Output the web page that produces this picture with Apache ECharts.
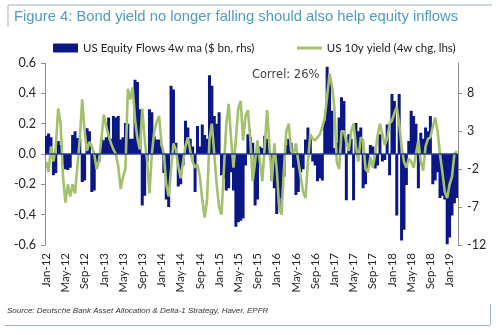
<!DOCTYPE html>
<html>
<head>
<meta charset="utf-8">
<script src="https://cdn.jsdelivr.net/npm/echarts@6/dist/echarts.min.js"></script>
<style>
html,body{margin:0;padding:0;background:#fff}
#c{width:500px;height:335px}
</style>
</head>
<body>
<div id="c"></div>
<script>
// Half-month periods from Jan-12 to Feb-19
const monthNames = ['Jan','Feb','Mar','Apr','May','Jun','Jul','Aug','Sep','Oct','Nov','Dec'];
const startYear = 2012;
const monthCount = 86;

// Labels shown on the date axis
const tickLabels = ['Jan-12','May-12','Sep-12','Jan-13','May-13','Sep-13','Jan-14','May-14','Sep-14',
  'Jan-15','May-15','Sep-15','Jan-16','May-16','Sep-16','Jan-17','May-17','Sep-17',
  'Jan-18','May-18','Sep-18','Jan-19'];

// US equity flows, 4w moving average ($ bn, right axis)
const equityFlows = [
  2.4, 2.7, 2.2, -2.8, -2.5, 1.7, 1.2, -1.5, -2.0, -2.1,
  -1.8, 2.5, 3.0, 2.1, 2.0, -3.7, -3.5, 3.4, 3.0, -5.0,
  -4.8, -1.3, -1.0, 2.0, 1.8, 2.2, 4.8, 2.0, 5.0, 4.8,
  5.0, 1.9, 2.2, 4.1, 4.0, 2.0, 2.0, 9.8, 9.5, 5.9,
  -6.8, -5.5, -1.0, 5.9, 5.5, 2.3, 1.9, 1.9, 1.0, -2.5,
  -6.0, -7.0, 9.0, 8.5, 1.5, -4.3, -4.0, -1.5, 4.4, 3.5,
  2.0, 1.0, -5.0, 3.7, 1.0, 3.9, 2.5, 2.0, 10.4, 9.0,
  5.0, 4.0, 5.5, -2.8, -3.2, -4.8, -4.5, -2.4, -4.8, -9.6,
  -9.0, -8.8, -8.5, -1.5, 2.6, 2.2, 1.5, -6.8, -6.0, 1.0,
  0.8, 2.4, 2.0, 0.5, -3.5, -4.5, -7.9, -7.0, -5.8, -3.0,
  1.2, 2.0, 1.5, -1.8, -5.4, -5.0, -2.4, -2.0, 1.9, 3.5,
  2.5, -1.0, -1.5, -3.6, -3.2, -3.5, 4.4, 11.5, 10.5, 5.7,
  0.8, 1.5, 4.8, 7.5, 7.0, -6.1, 2.6, 2.0, -6.1, 4.1,
  3.0, 3.5, -4.5, -4.0, -1.9, 1.2, 1.0, -1.9, -1.5, 2.6,
  -1.0, -0.8, 3.9, -2.8, 7.9, 7.0, -8.1, 7.9, -11.4, -10.0,
  -4.1, 1.7, 5.7, 5.0, 4.0, -4.5, 2.8, 2.0, 3.5, 3.0,
  5.0, -4.0, -3.5, -2.4, -5.8, -5.5, -6.0, -11.9, -11.0, -8.1,
  -6.5, -5.8
];

// US 10y yield, 4-week change (left axis)
const yieldChange = [
  -0.05, -0.12, 0.05, -0.05, 0.05, 0.30, 0.20, -0.15, -0.32, -0.20,
  -0.28, -0.20, -0.26, -0.08, 0.10, 0.36, 0.15, 0.02, 0.08, 0.05,
  0.00, -0.10, -0.04, 0.10, 0.26, 0.18, 0.12, 0.07, 0.03, 0.00,
  -0.08, -0.23, -0.15, -0.10, 0.43, 0.36, 0.44, 0.23, 0.10, 0.03,
  0.30, 0.10, -0.04, -0.26, 0.00, 0.15, 0.21, 0.25, 0.07, 0.00,
  -0.20, -0.28, -0.10, 0.07, 0.03, -0.08, -0.16, -0.05, 0.05, 0.11,
  0.02, -0.05, -0.09, -0.07, -0.15, -0.30, -0.42, -0.30, 0.10, 0.20,
  0.00, -0.20, -0.35, -0.40, -0.10, 0.20, 0.33, 0.10, -0.09, 0.10,
  0.30, 0.35, 0.09, 0.25, 0.29, 0.10, -0.18, -0.05, 0.09, -0.05,
  -0.18, 0.05, 0.29, 0.05, -0.18, 0.07, -0.10, -0.35, -0.40, -0.10,
  0.15, 0.20, 0.02, 0.00, 0.07, -0.05, -0.15, -0.25, -0.29, -0.05,
  0.13, 0.10, 0.09, 0.11, 0.13, 0.18, 0.24, 0.38, 0.53, 0.45,
  0.31, -0.05, -0.10, 0.15, 0.15, 0.08, 0.02, 0.15, 0.20, 0.05,
  -0.05, 0.11, 0.09, -0.10, -0.12, -0.02, -0.09, 0.00, 0.12, 0.20,
  0.13, 0.06, 0.10, 0.20, 0.22, 0.27, 0.31, 0.20, 0.05, -0.05,
  -0.09, -0.03, -0.05, -0.09, 0.00, 0.09, -0.05, -0.11, 0.05, 0.10,
  0.11, 0.18, 0.24, 0.15, 0.00, -0.12, -0.25, -0.29, -0.20, -0.15,
  0.00, 0.02
];

const rightTicks = [-12, -7, -2, 3, 8];

// Build category keys "Mon-YY|half"
const periods = [];
for (let m = 0; m < monthCount; m++) {
  const y = startYear + Math.floor(m / 12);
  const label = monthNames[m % 12] + '-' + String(y).slice(2);
  periods.push(label + '|1');
  periods.push(label + '|2');
}

const axisFont = 'Lato, "Open Sans", sans-serif';
const chart = echarts.init(document.getElementById('c'), null, {renderer: 'canvas'});

chart.setOption({
  animation: false,
  backgroundColor: '#ffffff',
  grid: {left: 45, right: 42, top: 63, bottom: 90, containLabel: false},
  legend: {
    top: 37, left: 48,
    itemGap: 41,
    itemWidth: 25, itemHeight: 9,
    textStyle: {fontFamily: axisFont, fontSize: 11.5, color: '#1a1a1a'},
    data: [
      {name: 'US Equity Flows 4w ma ($ bn, rhs)', icon: 'rect'},
      {name: 'US 10y yield (4w chg, lhs)', itemStyle: {opacity: 0},
       lineStyle: {width: 3, color: '#a3c16a'}}
    ]
  },
  xAxis: {
    type: 'category',
    data: periods,
    boundaryGap: true,
    axisLine: {show: false},
    axisTick: {show: false},
    axisLabel: {
      rotate: 90,
      margin: 8,
      fontFamily: axisFont,
      fontSize: 11.5,
      color: '#262626',
      interval: function (idx, val) {
        const p = val.split('|');
        return p[1] === '1' && tickLabels.indexOf(p[0]) >= 0;
      },
      formatter: function (val) { return val.split('|')[0]; }
    }
  },
  yAxis: [
    {
      type: 'value',
      min: -0.6, max: 0.6, interval: 0.2,
      position: 'left',
      axisLine: {show: true, lineStyle: {color: '#8c8c8c', width: 1}},
      axisTick: {show: true, length: 4, lineStyle: {color: '#8c8c8c'}},
      splitLine: {show: false},
      axisLabel: {
        fontFamily: axisFont, fontSize: 12.5, color: '#262626', margin: 9,
        formatter: function (v) { return v.toFixed(1); }
      }
    },
    {
      type: 'value',
      min: -12, max: 12,
      position: 'right',
      axisLine: {show: true, lineStyle: {color: '#8c8c8c', width: 1}},
      axisTick: {show: true, length: 4, customValues: rightTicks, lineStyle: {color: '#8c8c8c'}},
      splitLine: {show: false},
      axisLabel: {
        fontFamily: axisFont, fontSize: 12.5, color: '#262626', margin: 9,
        customValues: rightTicks
      }
    }
  ],
  series: [
    {
      name: 'US Equity Flows 4w ma ($ bn, rhs)',
      type: 'bar',
      yAxisIndex: 1,
      data: equityFlows,
      large: true,
      largeThreshold: 50,
      barWidth: 3,
      itemStyle: {color: '#0b1785', borderWidth: 0},
      markLine: {
        silent: true,
        symbol: 'none',
        label: {show: false},
        lineStyle: {color: '#2a3a9a', width: 1.5, type: 'solid'},
        data: [{yAxis: 0}]
      },
      z: 2
    },
    {
      name: 'US 10y yield (4w chg, lhs)',
      type: 'line',
      yAxisIndex: 0,
      data: yieldChange,
      symbol: 'none',
      smooth: false,
      lineStyle: {color: '#a3c16a', width: 2.6},
      itemStyle: {color: '#a3c16a'},
      z: 3
    }
  ],
  graphic: [
    {type: 'text', left: 14, top: 9,
     style: {text: 'Figure 4: Bond yield no longer falling should also help equity inflows',
             fill: '#4f9cbf', font: '14.8px "Liberation Sans", Arial, sans-serif'}},
    {type: 'line', shape: {x1: 8, y1: 5, x2: 492, y2: 5}, style: {stroke: '#9fb4bf', lineWidth: 1}},
    {type: 'line', shape: {x1: 8, y1: 5, x2: 8, y2: 27}, style: {stroke: '#9fb4bf', lineWidth: 1}},
    {type: 'text', left: 252, top: 69,
     style: {text: 'Correl: 26%', fill: '#404040', font: '11.5px "DejaVu Sans", sans-serif'}},
    {type: 'text', left: 7, top: 307,
     style: {text: 'Source: Deutsche Bank Asset Allocation & Delta-1 Strategy, Haver, EPFR',
             fill: '#333333', font: 'italic 8px "Liberation Sans", Arial, sans-serif'}},
    {type: 'line', shape: {x1: 5, y1: 325.5, x2: 490, y2: 325.5}, style: {stroke: '#9fb4bf', lineWidth: 1}},
    {type: 'line', shape: {x1: 490.5, y1: 304, x2: 490.5, y2: 325}, style: {stroke: '#9fb4bf', lineWidth: 1}}
  ]
});
</script>
</body>
</html>
